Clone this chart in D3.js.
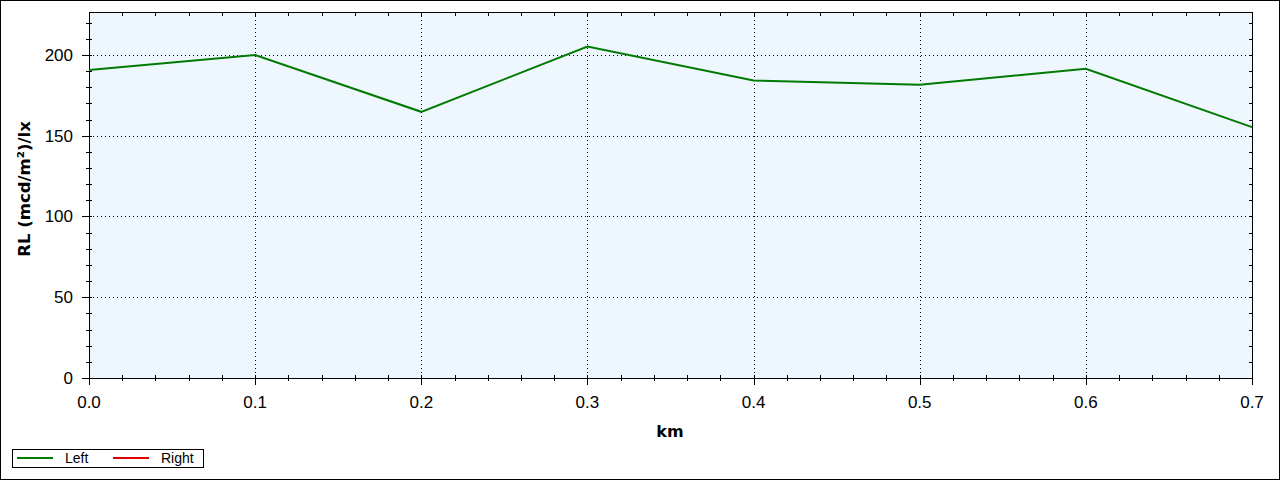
<!DOCTYPE html>
<html><head><meta charset="utf-8">
<script src="https://cdn.jsdelivr.net/npm/d3@7"></script>
<style>body{margin:0;background:#fff}svg{display:block;font-family:"Liberation Sans",Arial,sans-serif}</style>
</head><body><svg id="c" width="1280" height="480"></svg>
<script>
const distances = [0.0, 0.1, 0.2, 0.3, 0.4, 0.5, 0.6, 0.7];
const leftValues = [190.7, 200, 164.8, 205.2, 184.2, 181.6, 191.5, 155.3];
const rightValues = [];
const yTicks = [0, 50, 100, 150, 200];
const xTicks = [0.0, 0.1, 0.2, 0.3, 0.4, 0.5, 0.6, 0.7];
const seriesNames = ["Left", "Right"];
const seriesColors = ["#007a00", "#e00000"];
const yMax = 226.6;

const svg = d3.select("#c");
const L = 89, R = 1252, T = 12, B = 378;
const x = d3.scaleLinear().domain([0, 0.7]).range([L, R]);
const y = d3.scaleLinear().domain([0, yMax]).range([B, T]);

svg.append("rect").attr("x",0.5).attr("y",0.5).attr("width",1279).attr("height",479).attr("fill","#fff").attr("stroke","#000");
svg.append("rect").attr("x",L).attr("y",T).attr("width",R-L).attr("height",B-T).attr("fill","#eef6fe");

// grid
const g = svg.append("g").attr("stroke","#000").attr("stroke-dasharray","1,3").attr("shape-rendering","crispEdges");
yTicks.filter(v=>v>0).forEach(v=>g.append("line").attr("x1",L).attr("x2",R).attr("y1",Math.round(y(v))+0.5).attr("y2",Math.round(y(v))+0.5));
xTicks.filter(v=>v>0 && v<0.7).forEach(v=>g.append("line").attr("y1",T).attr("y2",B).attr("x1",Math.round(x(v))+0.5).attr("x2",Math.round(x(v))+0.5));

// ticks
const ax = svg.append("g").attr("stroke","#000").attr("shape-rendering","crispEdges");
d3.range(0, yMax, 10).forEach(v=>{
  const yy = Math.round(y(v))+0.5;
  const major = v % 50 === 0;
  ax.append("line").attr("x1", L-(major?7:3)).attr("x2", L+3).attr("y1",yy).attr("y2",yy);
  ax.append("line").attr("x1", R-3).attr("x2", R+1).attr("y1",yy).attr("y2",yy);
});
d3.range(0, 0.7001, 0.02).forEach(v=>{
  const xx = Math.round(x(v))+0.5;
  const major = Math.abs(v*10 - Math.round(v*10)) < 1e-6;
  ax.append("line").attr("x1",xx).attr("x2",xx).attr("y1",B-3).attr("y2",B+(major?7:3));
  ax.append("line").attr("x1",xx).attr("x2",xx).attr("y1",T).attr("y2",T+4);
});
ax.append("line").attr("x1",L+0.5).attr("x2",L+0.5).attr("y1",T).attr("y2",B);
ax.append("line").attr("x1",L).attr("x2",R+1).attr("y1",B+0.5).attr("y2",B+0.5);
ax.append("line").attr("x1",L).attr("x2",R+1).attr("y1",T+0.5).attr("y2",T+0.5);
ax.append("line").attr("x1",R+0.5).attr("x2",R+0.5).attr("y1",T).attr("y2",B);

// tick labels
svg.append("g").selectAll("text").data(yTicks).join("text")
  .attr("x", 73).attr("y", d=>y(d)+6).attr("text-anchor","end").attr("font-size",17).text(d=>d);
svg.append("g").selectAll("text").data(xTicks).join("text")
  .attr("x", d=>x(d)).attr("y", 408).attr("text-anchor","middle").attr("font-size",17).text(d=>d.toFixed(1));

svg.append("text").attr("x",670).attr("y",437).attr("text-anchor","middle").attr("font-size",16).attr("font-weight","bold").attr("font-family","DejaVu Sans").text("km");
svg.append("text").attr("transform","translate(30,189) rotate(-90)").attr("text-anchor","middle").attr("font-size",16.5).attr("font-weight","bold").attr("font-family","DejaVu Sans").text("RL (mcd/m²)/lx");

// line
const line = d3.line().x((d,i)=>x(distances[i])).y(d=>y(d));
svg.append("path").datum(leftValues).attr("d",line).attr("fill","none").attr("stroke",seriesColors[0]).attr("stroke-width",2);
if (rightValues.length) svg.append("path").datum(rightValues).attr("d",line).attr("fill","none").attr("stroke",seriesColors[1]).attr("stroke-width",2);

// legend
const lg = svg.append("g");
lg.append("rect").attr("x",12.5).attr("y",449.5).attr("width",191).attr("height",18).attr("fill","#fff").attr("stroke","#000");
seriesNames.forEach((n,i)=>{
  const ox = 17 + i*96;
  lg.append("line").attr("x1",ox).attr("x2",ox+36).attr("y1",458).attr("y2",458).attr("stroke",seriesColors[i]).attr("stroke-width",2);
  lg.append("text").attr("x",ox+48).attr("y",463).attr("font-size",14).text(n);
});
</script></body></html>
